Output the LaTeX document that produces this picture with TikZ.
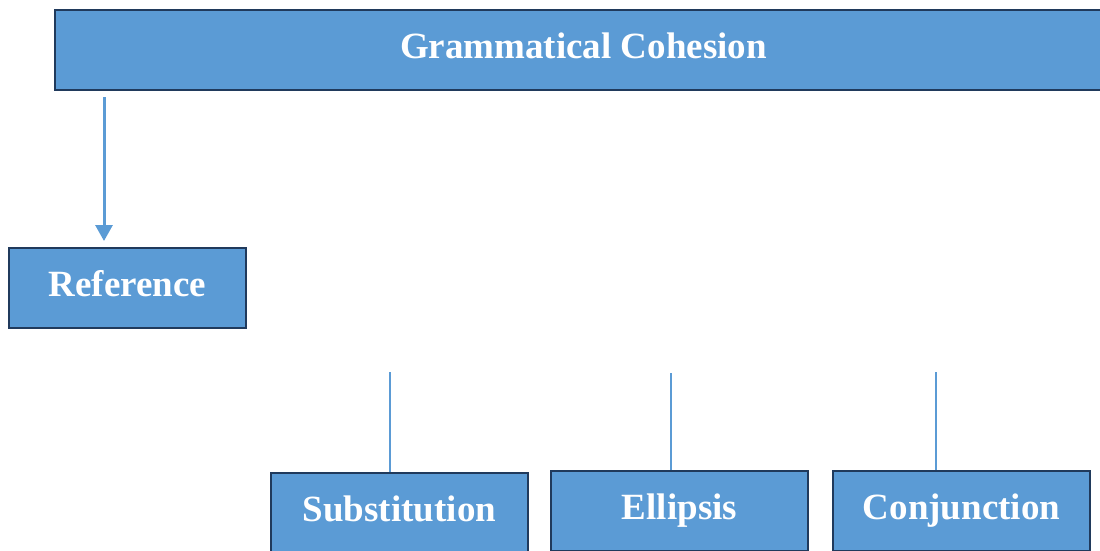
\documentclass[tikz,border=0pt]{standalone}
\usepackage{fontspec}
\setmainfont{Liberation Serif}
\usepackage{tikz}
\usetikzlibrary{arrows.meta}

\definecolor{cohfill}{HTML}{5B9BD5}
\definecolor{cohborder}{HTML}{203A5C}

\begin{document}
\begin{tikzpicture}[x=1pt,y=-1pt,block/.style={draw=cohborder, fill=cohfill, line width=2.5pt, rectangle, inner sep=0pt, text=white, font=\fontsize{37}{40}\selectfont\bfseries, text height=26pt, text depth=9pt}]
            \tikzset{edge/.style = {-{Triangle[length=16pt,width=17pt]}, draw=cohfill, line width=3pt}}
            \tikzset{link/.style = {draw=cohfill, line width=2.5pt}}

            \useasboundingbox (0,0) rectangle (1100,550);

            \node[block, minimum width=1057pt, minimum height=80pt] (cohesion) at (583.5,50) {Grammatical Cohesion};

            \node[block, minimum width=237pt, minimum height=80pt] (reference) at (127.5,288) {Reference};

            \node[block, minimum width=257pt, minimum height=80pt] (substitution) at (399.5,513) {Substitution};
            \node[block, minimum width=257pt, minimum height=80pt] (ellipsis) at (679.5,511) {Ellipsis};
            \node[block, minimum width=257pt, minimum height=80pt] (conjunction) at (961.5,511) {Conjunction};

            \coordinate (refout) at (104,97);
            \coordinate (refin) at (104,241);
            \coordinate (subtop) at (390,372);
            \coordinate (elltop) at (671,373);
            \coordinate (contop) at (936,372);

            \draw[edge] (refout) to (refin);

            \draw[link] (subtop) to (subtop |- substitution.north);
            \draw[link] (elltop) to (elltop |- ellipsis.north);
            \draw[link] (contop) to (contop |- conjunction.north);
\end{tikzpicture}
\end{document}
